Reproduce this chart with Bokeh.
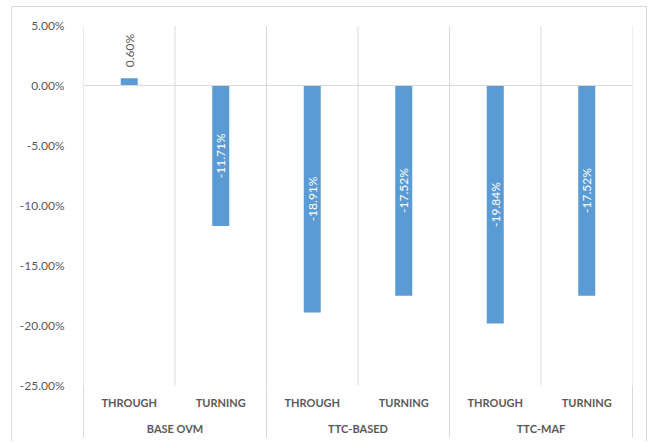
import math

from bokeh.plotting import figure
from bokeh.models import (ColumnDataSource, FixedTicker, LinearAxis,
                          NumeralTickFormatter, Range1d, Span)
from bokeh.core.properties import value
from bokeh.embed import file_html
from bokeh.resources import INLINE

# ---- data -------------------------------------------------------------
groups = ["BASE OVM", "TTC-BASED", "TTC-MAF"]
movements = ["THROUGH", "TURNING"]
changes = [0.0060, -0.1171, -0.1891, -0.1752, -0.1984, -0.1752]
y_ticks = [-0.25, -0.20, -0.15, -0.10, -0.05, 0.0, 0.05]

# ---- styling ----------------------------------------------------------
BAR = "#5B9BD5"
GRID = "#D9D9D9"
TXT = "#595959"
FONT = "Lato"

n = len(changes)
n_mov = len(movements)
xs = [i + 0.5 for i in range(n)]
cat_labels = [movements[i % n_mov] for i in range(n)]
group_centers = [g * n_mov + n_mov / 2 for g in range(len(groups))]
group_edges = [g * n_mov for g in range(len(groups) + 1)]
all_edges = list(range(n + 1))

p = figure(width=636, height=435,
           x_range=Range1d(0, n), y_range=Range1d(y_ticks[0], y_ticks[-1]),
           x_axis_type=None, output_backend="svg", toolbar_location=None,
           min_border_left=71, min_border_right=16,
           min_border_top=18, min_border_bottom=57)
p.styles = {"margin-left": "11px", "margin-top": "6px",
            "border": "1px solid #D9D9D9", "border-bottom": "none"}
p.outline_line_color = None
p.xgrid.visible = False
p.ygrid.visible = False
p.background_fill_color = "white"
p.border_fill_color = "white"

# y axis with percentage labels
p.yaxis.ticker = FixedTicker(ticks=y_ticks)
p.yaxis.formatter = NumeralTickFormatter(format="0.00%")
p.yaxis.axis_line_color = None
p.yaxis.major_tick_line_color = None
p.yaxis.minor_tick_line_color = None
p.yaxis.major_label_standoff = 13
p.yaxis.major_label_text_font = FONT
p.yaxis.major_label_text_font_size = "12px"
p.yaxis.major_label_text_color = TXT

# category separators inside the plot
p.segment(x0=all_edges, y0=y_ticks[-1], x1=all_edges, y1=y_ticks[0],
          line_color=GRID, line_width=1)
p.add_layout(Span(location=0, dimension="width", line_color=GRID, line_width=1))

# bars
width = 0.186
p.vbar(x=xs, top=changes, bottom=0, width=width, fill_color=BAR, line_color=None)

# value labels: centred inside long bars, above short ones
lx, ly, lt, lc, la, lo = [], [], [], [], [], []
for x, v in zip(xs, changes):
    txt = f"{v * 100:.2f}%"
    lx.append(x)
    lt.append(txt)
    if abs(v) > 0.05:
        ly.append(v / 2)
        lc.append("white")
        la.append("center")
        lo.append(0)
    else:
        ly.append(v)
        lc.append(TXT)
        la.append("left")
        lo.append(-11)
src = ColumnDataSource(dict(x=lx, y=ly, text=lt, color=lc, align=la, off=lo))
p.text(x="x", y="y", text="text", source=src, angle=math.pi / 2,
       text_color="color", text_align="align", y_offset="off",
       text_baseline="middle", text_font=value(FONT), text_font_size="12px")

# movement labels; long minor ticks continue the group separators downward
SEP_LEN = 52
cat_axis = LinearAxis(ticker=FixedTicker(ticks=xs, minor_ticks=group_edges),
                      major_label_overrides={x: t for x, t in zip(xs, cat_labels)})
cat_axis.axis_line_color = None
cat_axis.major_tick_line_color = None
cat_axis.major_tick_out = 0
cat_axis.major_tick_in = 0
cat_axis.minor_tick_in = 0
cat_axis.minor_tick_out = SEP_LEN
cat_axis.minor_tick_line_color = GRID
cat_axis.major_label_standoff = 10 - SEP_LEN
cat_axis.major_label_text_font = FONT
cat_axis.major_label_text_font_style = "bold"
cat_axis.major_label_text_font_size = "11px"
cat_axis.major_label_text_color = TXT
p.add_layout(cat_axis, "below")

# group labels
grp_axis = LinearAxis(ticker=FixedTicker(ticks=group_centers),
                      major_label_overrides={c: g for c, g in zip(group_centers, groups)})
grp_axis.axis_line_color = None
grp_axis.major_tick_line_color = None
grp_axis.minor_tick_line_color = None
grp_axis.major_tick_out = 0
grp_axis.major_tick_in = 0
grp_axis.major_label_standoff = 10
grp_axis.major_label_text_font = FONT
grp_axis.major_label_text_font_style = "bold"
grp_axis.major_label_text_font_size = "11px"
grp_axis.major_label_text_color = TXT
p.add_layout(grp_axis, "below")

open("out.html", "w").write(file_html(p, INLINE))
